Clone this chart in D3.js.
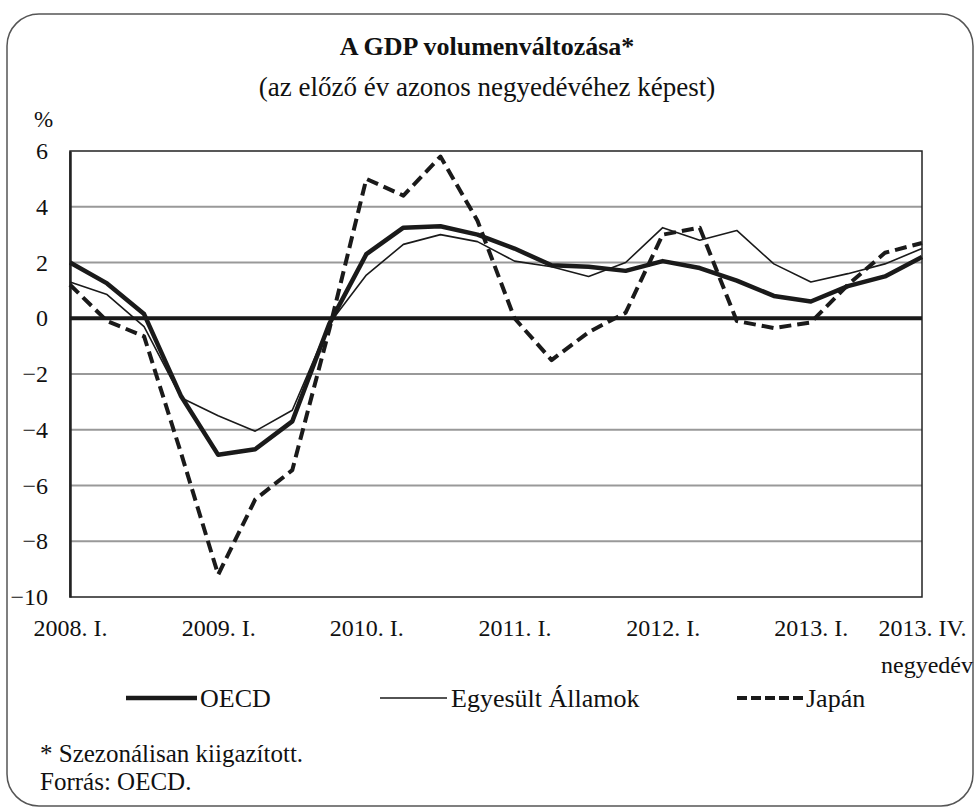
<!DOCTYPE html>
<html>
<head>
<meta charset="utf-8">
<script src="https://cdn.jsdelivr.net/npm/d3@7"></script>
<style>
    body { margin: 0; background: #fff; }
</style>
</head>
<body>
<div id="chart"></div>
<script>
// Quarters 2008 Q1 .. 2013 Q4
const quarters = d3.range(24);
const tickQuarters = [0, 4, 8, 12, 16, 20, 23];
const tickLabels = ['2008. I.', '2009. I.', '2010. I.', '2011. I.', '2012. I.', '2013. I.', '2013. IV.'];
const yTicks = [6, 4, 2, 0, -2, -4, -6, -8, -10];

// Year-on-year GDP volume change, %
const oecd = [2.0, 1.25, 0.15, -2.8, -4.9, -4.7, -3.7, -0.2, 2.3, 3.25, 3.3, 3.0,
    2.5, 1.9, 1.85, 1.7, 2.05, 1.8, 1.35, 0.8, 0.6, 1.15, 1.5, 2.2];
const usa = [1.3, 0.85, -0.3, -2.85, -3.5, -4.05, -3.3, -0.2, 1.55, 2.65, 3.0, 2.75,
    2.05, 1.85, 1.5, 2.0, 3.25, 2.8, 3.15, 1.95, 1.3, 1.6, 1.95, 2.5];
const japan = [1.2, -0.1, -0.65, -4.85, -9.2, -6.5, -5.45, -0.4, 5.0, 4.4, 5.8, 3.5,
    0.0, -1.5, -0.5, 0.2, 3.0, 3.25, -0.1, -0.35, -0.15, 1.2, 2.35, 2.7];

const seriesNames = ['OECD', 'Egyesült Államok', 'Japán'];

const fontFamily = "'Liberation Serif'";
const svgWidth = 974;
const svgHeight = 809;
const plot = {left: 70, right: 922, top: 151, bottom: 597};

const x = d3.scaleLinear().domain([0, 23]).range([plot.left, plot.right]);
const y = d3.scaleLinear().domain([-10, 6]).range([plot.bottom, plot.top]);

const svg = d3.select('#chart').append('svg')
    .attr('width', svgWidth)
    .attr('height', svgHeight);

// Small helper for plain text labels
const addText = (tx, ty, str, size, anchor) => {
    return svg.append('text')
        .attr('x', tx).attr('y', ty)
        .attr('text-anchor', anchor || 'start')
        .style('font-family', fontFamily)
        .style('font-size', size + 'px')
        .style('fill', '#111')
        .text(str);
};

// Rounded frame round the whole figure
svg.append('rect')
    .attr('x', 7).attr('y', 14)
    .attr('width', 966).attr('height', 792)
    .attr('rx', 32).attr('ry', 32)
    .attr('fill', 'none')
    .attr('stroke', '#555')
    .attr('stroke-width', 1.5);

// Titles
addText(487, 55, 'A GDP volumenváltozása*', 26, 'middle').style('font-weight', 'bold');
addText(487, 96, '(az előző év azonos negyedévéhez képest)', 27, 'middle');
addText(34, 127, '%', 23);

// Grid lines
svg.append('g')
    .selectAll('line')
    .data(yTicks.filter(d => d !== 0 && d !== 6 && d !== -10))
    .enter()
    .append('line')
        .attr('x1', plot.left).attr('x2', plot.right)
        .attr('y1', d => y(d)).attr('y2', d => y(d))
        .attr('stroke', '#999')
        .attr('stroke-width', 2);

// Plot border
svg.append('rect')
    .attr('x', plot.left).attr('y', plot.top)
    .attr('width', plot.right - plot.left)
    .attr('height', plot.bottom - plot.top)
    .attr('fill', 'none')
    .attr('stroke', '#222')
    .attr('stroke-width', 1.5);

// Y axis
const yAxis = svg.append('g')
    .attr('transform', 'translate(' + plot.left + ',0)')
    .call(d3.axisLeft(y).tickValues(yTicks).tickSize(0).tickPadding(22));
yAxis.select('.domain').attr('stroke', '#222').attr('stroke-width', 2.5);
yAxis.selectAll('text')
    .style('font-family', fontFamily)
    .style('font-size', '24px')
    .style('fill', '#111');

// X axis labels
const xAxis = svg.append('g')
    .attr('transform', 'translate(0,' + plot.bottom + ')')
    .call(d3.axisBottom(x).tickValues(tickQuarters)
        .tickFormat((d, i) => tickLabels[i])
        .tickSize(0).tickPadding(22));
xAxis.select('.domain').remove();
xAxis.selectAll('text')
    .style('font-family', fontFamily)
    .style('font-size', '24px')
    .style('fill', '#111');

addText(973, 673, 'negyedév', 24, 'end');

// Zero line
svg.append('line')
    .attr('x1', plot.left).attr('x2', plot.right)
    .attr('y1', y(0)).attr('y2', y(0))
    .attr('stroke', '#1a1a1a')
    .attr('stroke-width', 4);

const line = d3.line()
    .x((d, i) => x(quarters[i]))
    .y(d => y(d));

const styles = [
    {data: oecd, width: 4.5, dash: null},
    {data: usa, width: 1.6, dash: null},
    {data: japan, width: 4, dash: '12,6'}
];

// Draw series: Japan first, then USA, then OECD on top
[2, 1, 0].forEach(k => {
    svg.append('path')
        .datum(styles[k].data)
        .attr('d', line)
        .attr('fill', 'none')
        .attr('stroke', '#1a1a1a')
        .attr('stroke-width', styles[k].width)
        .attr('stroke-linejoin', 'round')
        .attr('stroke-dasharray', styles[k].dash);
});

// Legend
const legendItems = [
    {x1: 126, x2: 197, tx: 200},
    {x1: 380, x2: 447, tx: 451},
    {x1: 737, x2: 803, tx: 806}
];
legendItems.forEach((d, i) => {
    svg.append('line')
        .attr('x1', d.x1).attr('x2', d.x2)
        .attr('y1', 698).attr('y2', 698)
        .attr('stroke', '#1a1a1a')
        .attr('stroke-width', styles[i].width)
        .attr('stroke-dasharray', styles[i].dash ? '10,4' : null);
    addText(d.tx, 707, seriesNames[i], 26);
});

// Footnotes
addText(40, 762, '* Szezonálisan kiigazított.', 25);
addText(40, 790, 'Forrás: OECD.', 25);
</script>
</body>
</html>
